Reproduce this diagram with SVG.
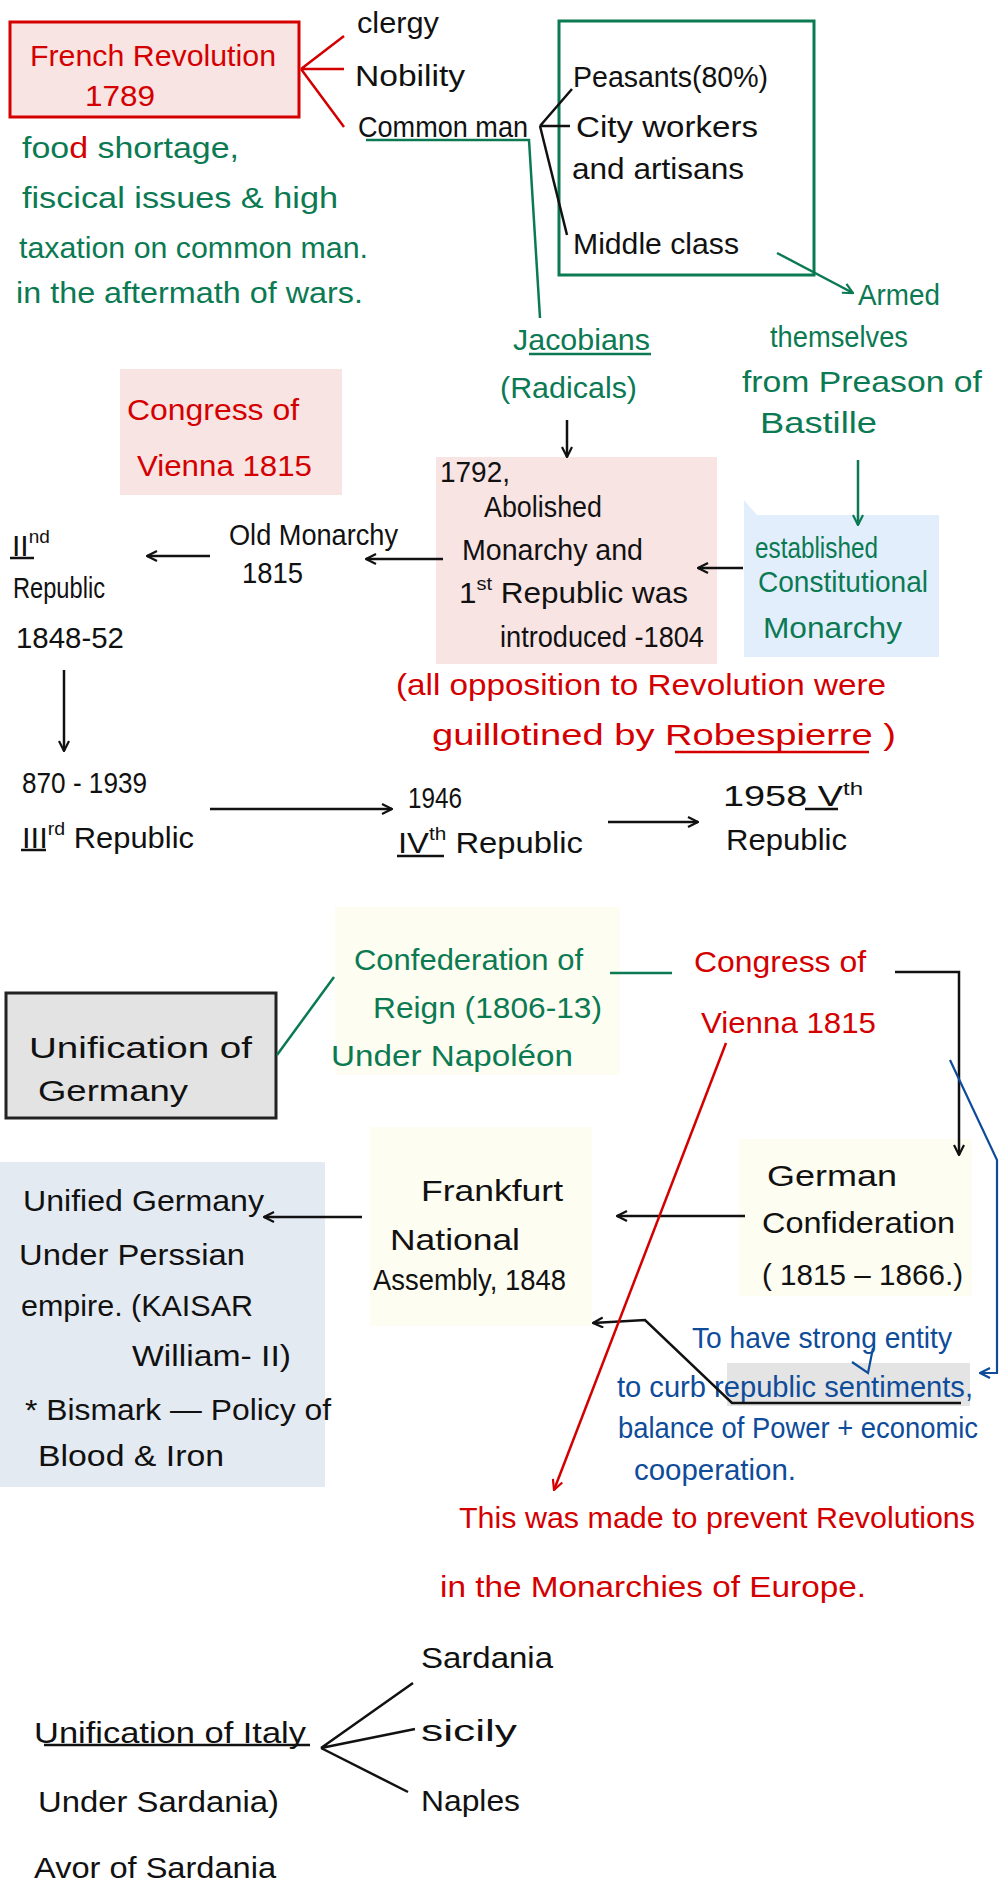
<svg xmlns="http://www.w3.org/2000/svg" width="999" height="1899" viewBox="0 0 999 1899">
<defs>
<style>
text{font-family:"Liberation Sans",Arial,sans-serif;font-size:30px;}
.k{fill:#111}
.r{fill:#d40000}
.g{fill:#0b7a53}
.b{fill:#0e4c9a}
.lk{stroke:#111;stroke-width:2.5;fill:none}
.lr{stroke:#d40000;stroke-width:2.5;fill:none}
.lg{stroke:#0b7a53;stroke-width:2.5;fill:none}
.lb{stroke:#0e4c9a;stroke-width:2.2;fill:none}
.pink{fill:#f9e4e4}
.yel{fill:#fdfdf1}
</style>
<marker id="ak" viewBox="0 0 12 12" refX="11" refY="6" markerWidth="12" markerHeight="12" markerUnits="userSpaceOnUse" orient="auto"><path d="M1,1 L11,6 L1,11" fill="none" stroke="#111" stroke-width="2.2"/></marker>
<marker id="ag" viewBox="0 0 12 12" refX="11" refY="6" markerWidth="12" markerHeight="12" markerUnits="userSpaceOnUse" orient="auto"><path d="M1,1 L11,6 L1,11" fill="none" stroke="#0b7a53" stroke-width="2.2"/></marker>
<marker id="ar" viewBox="0 0 12 12" refX="11" refY="6" markerWidth="12" markerHeight="12" markerUnits="userSpaceOnUse" orient="auto"><path d="M1,1 L11,6 L1,11" fill="none" stroke="#d40000" stroke-width="2.2"/></marker>
<marker id="ab" viewBox="0 0 12 12" refX="11" refY="6" markerWidth="12" markerHeight="12" markerUnits="userSpaceOnUse" orient="auto"><path d="M1,1 L11,6 L1,11" fill="none" stroke="#0e4c9a" stroke-width="2.2"/></marker>
</defs>
<rect width="999" height="1899" fill="#fff"/>

<g id="french-revolution">
<rect x="10" y="22" width="289" height="95" fill="#f9e4e4" stroke="#d40000" stroke-width="3"/>
<text class="r" x="30" y="66" font-size="34" textLength="246" lengthAdjust="spacingAndGlyphs">French Revolution</text>
<text class="r" x="85" y="106" font-size="32" textLength="70" lengthAdjust="spacingAndGlyphs">1789</text>
</g>

<g id="causes">
<text class="g" x="22" y="158" textLength="217" lengthAdjust="spacingAndGlyphs">foo<tspan class="r">d</tspan> shortage,</text>
<text class="g" x="22" y="208" textLength="316" lengthAdjust="spacingAndGlyphs">fiscical issues &amp; high</text>
<text class="g" x="19" y="258" textLength="349" lengthAdjust="spacingAndGlyphs">taxation on common man.</text>
<text class="g" x="16" y="303" textLength="347" lengthAdjust="spacingAndGlyphs">in the aftermath of wars.</text>
</g>

<g id="estates">
<text class="k" x="357" y="33" font-size="28" textLength="82" lengthAdjust="spacingAndGlyphs">clergy</text>
<text class="k" x="355" y="86" textLength="110" lengthAdjust="spacingAndGlyphs">Nobility</text>
<text class="k" x="358" y="137" font-size="28" textLength="170" lengthAdjust="spacingAndGlyphs">Common man</text>
</g>

<g id="common-man-groups">
<rect x="559" y="21" width="255" height="254" fill="none" stroke="#0b7a53" stroke-width="3"/>
<text class="k" x="573" y="87" textLength="195" lengthAdjust="spacingAndGlyphs">Peasants(80%)</text>
<text class="k" x="576" y="137" textLength="182" lengthAdjust="spacingAndGlyphs">City workers</text>
<text class="k" x="572" y="179" textLength="172" lengthAdjust="spacingAndGlyphs">and artisans</text>
<text class="k" x="573" y="254" textLength="166" lengthAdjust="spacingAndGlyphs">Middle class</text>
</g>

<g id="armed">
<text class="g" x="858" y="305" font-size="32" textLength="82" lengthAdjust="spacingAndGlyphs">Armed</text>
<text class="g" x="770" y="347" textLength="138" lengthAdjust="spacingAndGlyphs">themselves</text>
<text class="g" x="742" y="392" textLength="240" lengthAdjust="spacingAndGlyphs">from Preason of</text>
<text class="g" x="760" y="433" font-size="32" textLength="117" lengthAdjust="spacingAndGlyphs">Bastille</text>
</g>

<g id="jacobians">
<text class="g" x="513" y="350" textLength="137" lengthAdjust="spacingAndGlyphs">Jacobians</text>
<path class="lg" d="M529,354 L651,354"/>
<text class="g" x="500" y="398" textLength="137" lengthAdjust="spacingAndGlyphs">(Radicals)</text>
</g>

<g id="congress-vienna-1">
<rect class="pink" x="120" y="369" width="222" height="126"/>
<text class="r" x="127" y="420" font-size="32" textLength="172" lengthAdjust="spacingAndGlyphs">Congress of</text>
<text class="r" x="137" y="476" font-size="32" textLength="175" lengthAdjust="spacingAndGlyphs">Vienna 1815</text>
</g>

<g id="first-republic">
<rect class="pink" x="436" y="457" width="281" height="207"/>
<text class="k" x="440" y="482" font-size="26" textLength="70" lengthAdjust="spacingAndGlyphs">1792,</text>
<text class="k" x="484" y="517" textLength="118" lengthAdjust="spacingAndGlyphs">Abolished</text>
<text class="k" x="462" y="560" textLength="181" lengthAdjust="spacingAndGlyphs">Monarchy and</text>
<text class="k" x="459" y="603" textLength="229" lengthAdjust="spacingAndGlyphs">1<tspan font-size="19" dy="-13">st</tspan><tspan dy="13"> Republic was</tspan></text>
<text class="k" x="500" y="647" textLength="204" lengthAdjust="spacingAndGlyphs">introduced -1804</text>
</g>

<g id="constitutional-monarchy">
<polygon points="744,500 757,515 939,515 939,657 744,657" fill="#e3eefd"/>
<text class="g" x="755" y="558" font-size="28" textLength="123" lengthAdjust="spacingAndGlyphs">established</text>
<text class="g" x="758" y="592" font-size="28" textLength="170" lengthAdjust="spacingAndGlyphs">Constitutional</text>
<text class="g" x="763" y="638" textLength="139" lengthAdjust="spacingAndGlyphs">Monarchy</text>
</g>

<g id="old-monarchy">
<text class="k" x="229" y="545" font-size="28" textLength="169" lengthAdjust="spacingAndGlyphs">Old Monarchy</text>
<text class="k" x="242" y="583" font-size="28" textLength="61" lengthAdjust="spacingAndGlyphs">1815</text>
</g>

<g id="second-republic">
<text class="k" x="12" y="556" font-size="28">II<tspan font-size="19" dy="-13">nd</tspan></text>
<path class="lk" d="M10,558 L34,558"/>
<text class="k" x="13" y="598" font-size="28" textLength="92" lengthAdjust="spacingAndGlyphs">Republic</text>
<text class="k" x="16" y="648" font-size="26" textLength="108" lengthAdjust="spacingAndGlyphs">1848-52</text>
</g>

<g id="robespierre-note">
<text class="r" x="396" y="695" font-size="32" textLength="490" lengthAdjust="spacingAndGlyphs">(all opposition to Revolution were</text>
<text class="r" x="432" y="745" font-size="32" textLength="464" lengthAdjust="spacingAndGlyphs">guillotined by Robespierre )</text>
<path class="lr" d="M675,752 L869,752"/>
</g>

<g id="third-republic">
<text class="k" x="22" y="793" font-size="26" textLength="125" lengthAdjust="spacingAndGlyphs">870 - 1939</text>
<text class="k" x="22" y="848" font-size="28" textLength="172" lengthAdjust="spacingAndGlyphs">III<tspan font-size="19" dy="-13">rd</tspan><tspan dy="13"> Republic</tspan></text>
<path class="lk" d="M21,850 L46,850"/>
</g>

<g id="fourth-republic">
<text class="k" x="408" y="808" font-size="26" textLength="54" lengthAdjust="spacingAndGlyphs">1946</text>
<text class="k" x="398" y="853" font-size="28" textLength="185" lengthAdjust="spacingAndGlyphs">IV<tspan font-size="19" dy="-13">th</tspan><tspan dy="13"> Republic</tspan></text>
<path class="lk" d="M397,856 L444,856"/>
</g>

<g id="fifth-republic">
<text class="k" x="723" y="806" font-size="26" textLength="140" lengthAdjust="spacingAndGlyphs">1958 V<tspan font-size="19" dy="-11">th</tspan></text>
<path class="lk" d="M805,809 L838,809"/>
<text class="k" x="726" y="850" font-size="28" textLength="121" lengthAdjust="spacingAndGlyphs">Republic</text>
</g>

<g id="unification-germany">
<rect x="6" y="993" width="270" height="125" fill="#e3e3e3" stroke="#222" stroke-width="3"/>
<text class="k" x="29" y="1058" font-size="32" textLength="223" lengthAdjust="spacingAndGlyphs">Unification of</text>
<text class="k" x="38" y="1101" font-size="32" textLength="150" lengthAdjust="spacingAndGlyphs">Germany</text>
</g>

<g id="confederation-rhine">
<rect class="yel" x="335" y="907" width="285" height="168"/>
<text class="g" x="354" y="970" textLength="229" lengthAdjust="spacingAndGlyphs">Confederation of</text>
<text class="g" x="373" y="1018" textLength="229" lengthAdjust="spacingAndGlyphs">Reign (1806-13)</text>
<text class="g" x="331" y="1066" textLength="242" lengthAdjust="spacingAndGlyphs">Under Napoléon</text>
</g>

<g id="congress-vienna-2">
<text class="r" x="694" y="972" font-size="32" textLength="172" lengthAdjust="spacingAndGlyphs">Congress of</text>
<text class="r" x="701" y="1033" font-size="32" textLength="175" lengthAdjust="spacingAndGlyphs">Vienna 1815</text>
</g>

<g id="german-confederation">
<rect class="yel" x="739" y="1139" width="233" height="157"/>
<text class="k" x="767" y="1186" font-size="32" textLength="130" lengthAdjust="spacingAndGlyphs">German</text>
<text class="k" x="762" y="1233" font-size="32" textLength="193" lengthAdjust="spacingAndGlyphs">Confideration</text>
<text class="k" x="762" y="1285" font-size="32" textLength="201" lengthAdjust="spacingAndGlyphs">( 1815 – 1866.)</text>
</g>

<g id="frankfurt">
<rect class="yel" x="370" y="1127" width="222" height="199"/>
<text class="k" x="421" y="1201" textLength="142" lengthAdjust="spacingAndGlyphs">Frankfurt</text>
<text class="k" x="390" y="1250" font-size="32" textLength="130" lengthAdjust="spacingAndGlyphs">National</text>
<text class="k" x="373" y="1290" font-size="26" textLength="193" lengthAdjust="spacingAndGlyphs">Assembly, 1848</text>
</g>

<g id="unified-germany">
<rect x="0" y="1162" width="325" height="325" fill="#e4eaf2"/>
<text class="k" x="23" y="1211" textLength="241" lengthAdjust="spacingAndGlyphs">Unified Germany</text>
<text class="k" x="19" y="1265" textLength="226" lengthAdjust="spacingAndGlyphs">Under Perssian</text>
<text class="k" x="21" y="1316" font-size="28" textLength="232" lengthAdjust="spacingAndGlyphs">empire. (KAISAR</text>
<text class="k" x="132" y="1366" font-size="28" textLength="159" lengthAdjust="spacingAndGlyphs">William- II)</text>
<text class="k" x="25" y="1420" textLength="306" lengthAdjust="spacingAndGlyphs">* Bismark — Policy of</text>
<text class="k" x="38" y="1466" textLength="186" lengthAdjust="spacingAndGlyphs">Blood &amp; Iron</text>
</g>

<g id="purpose-note">
<rect x="727" y="1363" width="243" height="43" fill="#e4e4e4"/>
<text class="b" x="692" y="1348" font-size="26" textLength="260" lengthAdjust="spacingAndGlyphs">To have strong entity</text>
<path class="lb" d="M852,1362 L868,1373 L873,1348"/>
<text class="b" x="617" y="1397" font-size="28" textLength="356" lengthAdjust="spacingAndGlyphs">to curb republic sentiments,</text>
<text class="b" x="618" y="1438" font-size="28" textLength="360" lengthAdjust="spacingAndGlyphs">balance of Power + economic</text>
<text class="b" x="634" y="1480" font-size="28" textLength="162" lengthAdjust="spacingAndGlyphs">cooperation.</text>
</g>

<g id="prevent-note">
<text class="r" x="459" y="1528" textLength="516" lengthAdjust="spacingAndGlyphs">This was made to prevent Revolutions</text>
<text class="r" x="440" y="1597" textLength="426" lengthAdjust="spacingAndGlyphs">in the Monarchies of Europe.</text>
</g>

<g id="unification-italy">
<text class="k" x="34" y="1743" textLength="272" lengthAdjust="spacingAndGlyphs">Unification of Italy</text>
<text class="k" x="38" y="1812" textLength="241" lengthAdjust="spacingAndGlyphs">Under Sardania)</text>
<text class="k" x="34" y="1878" textLength="242" lengthAdjust="spacingAndGlyphs">Avor of Sardania</text>
</g>

<g id="italy-states">
<text class="k" x="421" y="1668" textLength="132" lengthAdjust="spacingAndGlyphs">Sardania</text>
<text class="k" x="421" y="1741" textLength="96" lengthAdjust="spacingAndGlyphs">sicily</text>
<text class="k" x="421" y="1811" textLength="99" lengthAdjust="spacingAndGlyphs">Naples</text>
</g>

<g id="connectors">
<path class="lr" d="M301,69 L344,36 M301,69 L344,69 M301,69 L344,127"/>
<path class="lg" d="M366,140 L529,140 L540,318"/>
<path class="lk" d="M540,126 L572,89 M540,126 L570,126 M540,126 L567,235"/>
<path class="lg" d="M777,253 L853,293" marker-end="url(#ag)"/>
<path class="lk" d="M567,420 L567,457" marker-end="url(#ak)"/>
<path class="lg" d="M858,460 L858,525" marker-end="url(#ag)"/>
<path class="lk" d="M743,568 L698,568" marker-end="url(#ak)"/>
<path class="lk" d="M443,559 L366,559" marker-end="url(#ak)"/>
<path class="lk" d="M210,556 L147,556" marker-end="url(#ak)"/>
<path class="lk" d="M64,670 L64,751" marker-end="url(#ak)"/>
<path class="lk" d="M210,809 L392,809" marker-end="url(#ak)"/>
<path class="lk" d="M608,822 L698,822" marker-end="url(#ak)"/>
<path class="lg" d="M334,977 L277,1055"/>
<path class="lg" d="M610,973 L672,973"/>
<path class="lk" d="M895,972 L959,972 L959,1155" marker-end="url(#ak)"/>
<path class="lb" d="M950,1060 L997,1160 L997,1373 L980,1373" marker-end="url(#ab)"/>
<path class="lk" d="M745,1216 L617,1216" marker-end="url(#ak)"/>
<path class="lk" d="M961,1403 L732,1403 L645,1320 L593,1323" marker-end="url(#ak)"/>
<path class="lk" d="M362,1217 L264,1217" marker-end="url(#ak)"/>
<path class="lr" d="M726,1043 L554,1490" marker-end="url(#ar)"/>
<path class="lk" d="M44,1745 L310,1745"/>
<path class="lk" d="M321,1748 L413,1683 M321,1748 L415,1729 M321,1748 L408,1792"/>
</g>
</svg>
